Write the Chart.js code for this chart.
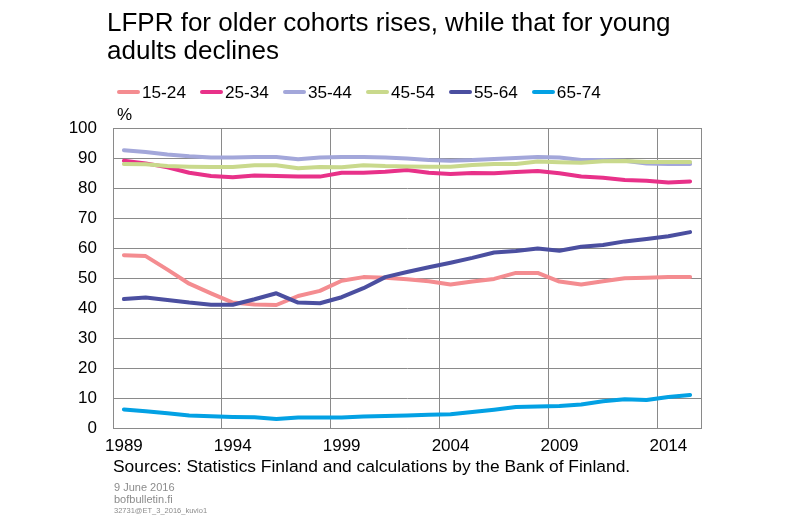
<!DOCTYPE html>
<html><head><meta charset="utf-8">
<script src="https://cdn.jsdelivr.net/npm/chart.js@4/dist/chart.umd.min.js"></script>
<style>
html,body{margin:0;padding:0;background:#fff;}
#wrap{position:relative;width:800px;height:522px;overflow:hidden;font-family:"Liberation Sans",Arial,sans-serif;color:#000;}
canvas{position:absolute;left:0;top:0;}
.t{position:absolute;white-space:nowrap;}
#title{left:107px;top:8px;font-size:26px;line-height:28px;}
#legend{left:117px;top:81px;font-size:17.2px;line-height:22px;display:flex;}
.li{display:flex;align-items:center;margin-right:14px;}
.sw{display:inline-block;width:23px;height:4px;border-radius:2px;margin-right:2px;}
#pct{left:117px;top:105px;font-size:17px;}
#src{left:113px;top:456px;font-size:17.4px;}
.ft{color:#8c8c8c;}
</style></head>
<body><div id="wrap">
<canvas id="c" width="800" height="522"></canvas>
<div id="title" class="t">LFPR for older cohorts rises, while that for young<br>adults declines</div>
<div id="legend" class="t"></div>
<div id="pct" class="t">%</div>
<div id="src" class="t">Sources: Statistics Finland and calculations by the Bank of Finland.</div>
<div class="t ft" style="left:114px;top:481px;font-size:11px;">9 June 2016</div>
<div class="t ft" style="left:114px;top:493px;font-size:11px;">bofbulletin.fi</div>
<div class="t ft" style="left:114px;top:506px;font-size:7.5px;">32731@ET_3_2016_kuvio1</div>
</div>
<script>
const years = [1989,1990,1991,1992,1993,1994,1995,1996,1997,1998,1999,2000,2001,2002,2003,2004,2005,2006,2007,2008,2009,2010,2011,2012,2013,2014,2015];
const seriesNames = ["15-24","25-34","35-44","45-54","55-64","65-74"];
const seriesColors = ["#F48C90","#E83189","#A3A7DA","#C9D98C","#4B4FA0","#03A1E4"];
const age15_24 = [57.6,57.3,52.8,48.1,44.9,41.8,41.2,41.0,44.0,45.7,49.1,50.3,50.1,49.6,48.9,47.8,48.8,49.7,51.7,51.7,48.8,47.8,48.9,49.9,50.1,50.3,50.3];
const age25_34 = [89.1,88.2,86.9,85.1,84.0,83.6,84.2,84.0,83.8,83.8,85.1,85.1,85.4,86.0,85.1,84.7,85.0,84.9,85.3,85.7,84.9,83.8,83.4,82.7,82.4,81.8,82.2];
const age35_44 = [92.6,92.0,91.2,90.6,90.2,90.2,90.3,90.3,89.6,90.2,90.3,90.3,90.2,89.8,89.3,89.1,89.3,89.7,90.0,90.3,90.2,89.3,89.3,89.1,88.2,88.0,88.0];
const age45_54 = [88.0,87.9,87.3,87.1,87.0,87.0,87.6,87.6,86.6,87.0,86.9,87.6,87.3,87.2,87.1,87.1,87.7,88.0,88.0,88.8,88.6,88.4,88.9,89.0,88.7,88.7,88.7];
const age55_64 = [43.0,43.5,42.7,41.8,41.1,41.1,42.9,44.9,41.8,41.6,43.6,46.6,50.3,52.0,53.6,55.1,56.7,58.5,59.0,59.8,59.1,60.4,61.0,62.2,63.0,63.9,65.3];
const age65_74 = [6.2,5.6,4.9,4.2,3.9,3.7,3.6,3.0,3.5,3.5,3.5,3.8,4.0,4.2,4.4,4.6,5.3,6.1,7.0,7.2,7.3,7.8,8.9,9.6,9.3,10.3,11.0];
const yTicks = [0,10,20,30,40,50,60,70,80,90,100];

const allSeries = [age15_24,age25_34,age35_44,age45_54,age55_64,age65_74];

// HTML legend from series names/colors
const lg = document.getElementById('legend');
seriesNames.forEach((n,i)=>{
  const d=document.createElement('span');d.className='li';
  const s=document.createElement('span');s.className='sw';s.style.background=seriesColors[i];
  d.appendChild(s);d.appendChild(document.createTextNode(n));lg.appendChild(d);
});

const gridCol = '#8a8a8a';
new Chart(document.getElementById('c'), {
  type: 'line',
  data: {
    labels: years.map(String),
    datasets: allSeries.map((v,i)=>({
      label: seriesNames[i], data: v,
      borderColor: seriesColors[i], backgroundColor: seriesColors[i],
      borderWidth: 4, pointRadius: 0, tension: 0,
      borderCapStyle: 'round', borderJoinStyle: 'round',
      order: allSeries.length - i
    }))
  },
  options: {
    responsive: false, animation: false,
    layout: { padding: { top: 128, right: 99, left: 0, bottom: 54 } },
    plugins: { legend: { display: false }, title: { display: false }, tooltip: { enabled: false } },
    scales: {
      x: {
        type: 'category', offset: true,
        grid: { offset: true, drawTicks: false, lineWidth: 1,
          color: ctx => (ctx.index % 5 === 0 ? gridCol : 'rgba(0,0,0,0)') },
        border: { display: true, color: gridCol, width: 1 },
        ticks: { autoSkip: false, maxRotation: 0, minRotation: 0, padding: 8, color: '#000',
          font: { family: 'Liberation Sans', size: 17 },
          callback: (v, i) => (i % 5 === 0 ? years[i] : '') },
        afterFit: s => { s.height = 40; }
      },
      y: {
        min: 0, max: 100,
        afterBuildTicks: s => { s.ticks = yTicks.map(v => ({ value: v })); },
        grid: { color: gridCol, drawTicks: false, lineWidth: 1 },
        border: { display: true, color: gridCol, width: 1 },
        ticks: { padding: 16, color: '#000', font: { family: 'Liberation Sans', size: 17 } },
        afterFit: s => { s.width = 113; }
      },
      y2: {
        position: 'right', min: 0, max: 100,
        grid: { drawOnChartArea: false, drawTicks: false },
        border: { display: true, color: gridCol, width: 1 },
        ticks: { display: false },
        afterFit: s => { s.width = 0; }
      }
    }
  }
});
</script>
</body></html>
